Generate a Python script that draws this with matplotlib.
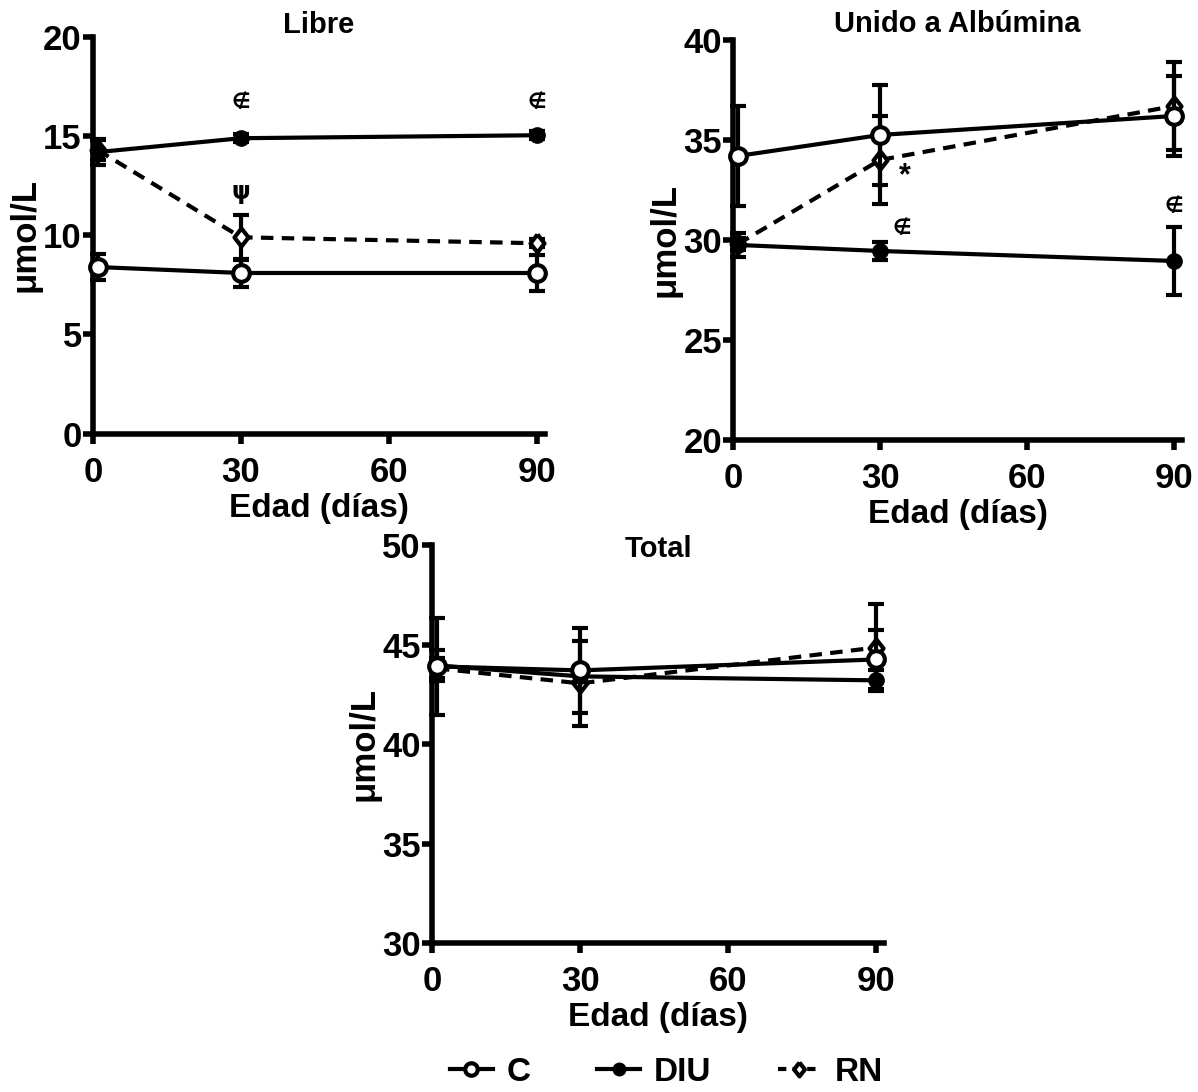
import matplotlib
matplotlib.use("Agg")
import matplotlib.pyplot as plt
from matplotlib.lines import Line2D

plt.rcParams['font.family'] = ['Liberation Sans Narrow', 'Liberation Sans', 'DejaVu Sans']
plt.rcParams['font.weight'] = 'bold'

# Data (mean +/- error)
days = [1, 30, 90]

libre_C = [8.4, 8.1, 8.1]
libre_C_err = [0.65, 0.72, 0.9]
libre_DIU = [14.2, 14.9, 15.05]
libre_DIU_err = [0.67, 0.2, 0.2]
libre_RN = [14.3, 9.9, 9.6]
libre_RN_err = [0.5, 1.15, 0.2]

alb_C = [34.2, 35.25, 36.2]
alb_C_err = [2.5, 2.5, 2.0]
alb_DIU = [29.75, 29.45, 28.95]
alb_DIU_err = [0.6, 0.45, 1.7]
alb_RN = [29.8, 34.0, 36.7]
alb_RN_err = [0.3, 2.2, 2.2]

tot_C = [43.9, 43.7, 44.25]
tot_C_err = [2.45, 2.15, 1.5]
tot_DIU = [43.95, 43.4, 43.2]
tot_DIU_err = [0.8, 0.3, 0.5]
tot_RN = [43.8, 43.05, 44.85]
tot_RN_err = [0.5, 2.15, 2.2]

# slightly narrow diamond like the original symbol
diamond = [(0, 1), (0.78, 0), (0, -1), (-0.78, 0), (0, 1)]

fig = plt.figure(figsize=(11.98, 10.92), dpi=100)

ax1 = fig.add_axes([0.0776, 0.6030, 0.3773, 0.3630])
ax2 = fig.add_axes([0.6119, 0.5971, 0.3748, 0.3663])
ax3 = fig.add_axes([0.3606, 0.1364, 0.3773, 0.3645])


def draw(ax, c, ce, d, de, r, re_, ylim, title, title_y):
    common = dict(ecolor='black', elinewidth=3, capsize=6, capthick=3, clip_on=False)
    ax.errorbar(days, r, yerr=re_, color='black', lw=3, ls=(0, (3, 2)), marker=diamond,
                markersize=13, markerfacecolor='white', markeredgecolor='black',
                markeredgewidth=3, zorder=3, **common)
    ax.errorbar(days, d, yerr=de, color='black', lw=3, marker='o', markersize=11,
                markerfacecolor='black', markeredgecolor='black', zorder=4, **common)
    ax.errorbar(days, c, yerr=ce, color='black', lw=3, marker='o', markersize=12,
                markerfacecolor='white', markeredgecolor='black', markeredgewidth=3,
                zorder=5, **common)
    ax.set_xlim(0, 91.6)
    ax.set_ylim(ylim)
    ax.set_xticks([0, 30, 60, 90])
    ax.set_yticks(range(ylim[0], ylim[1] + 1, 5))
    for s in ['top', 'right']:
        ax.spines[s].set_visible(False)
    for s in ['left', 'bottom']:
        ax.spines[s].set_linewidth(4)
    ax.tick_params(direction='out', length=7, width=4, labelsize=25)
    ax.tick_params(axis='x', pad=9)
    ax.tick_params(axis='y', pad=1)
    for lab in ax.get_xticklabels() + ax.get_yticklabels():
        lab.set_fontweight('bold')
    ax.set_xlabel('Edad (días)', fontsize=24, fontweight='bold', labelpad=3)
    ax.set_ylabel('μmol/L', fontsize=25, fontweight='bold', labelpad=1)
    ax.text(0.5, title_y, title, transform=ax.transAxes, ha='center', va='center',
            fontsize=21, fontweight='bold')


draw(ax1, libre_C, libre_C_err, libre_DIU, libre_DIU_err, libre_RN, libre_RN_err,
     (0, 20), 'Libre', 1.03)
draw(ax2, alb_C, alb_C_err, alb_DIU, alb_DIU_err, alb_RN, alb_RN_err,
     (20, 40), 'Unido a Albúmina', 1.04)
draw(ax3, tot_C, tot_C_err, tot_DIU, tot_DIU_err, tot_RN, tot_RN_err,
     (30, 50), 'Total', 0.99)

# significance marks
ax1.text(30, 16.7, '∉', ha='center', va='center', fontsize=15, family='DejaVu Sans')
ax1.text(90, 16.7, '∉', ha='center', va='center', fontsize=15, family='DejaVu Sans')
ax1.text(30, 12.2, 'ψ', ha='center', va='center', fontsize=17, family='DejaVu Sans')
ax2.text(35, 33.2, '*', ha='center', va='center', fontsize=22, fontweight='bold')
ax2.text(34.5, 30.6, '∉', ha='center', va='center', fontsize=15, family='DejaVu Sans')
ax2.text(90, 31.7, '∉', ha='center', va='center', fontsize=15, family='DejaVu Sans')

handles = [
    Line2D([], [], color='black', lw=3, marker='o', markersize=9,
           markerfacecolor='white', markeredgewidth=3),
    Line2D([], [], color='black', lw=3, marker='o', markersize=9,
           markerfacecolor='black'),
    Line2D([], [], color='black', lw=3, ls=(0, (2, 1.5)), marker=diamond, markersize=10,
           markerfacecolor='white', markeredgewidth=3),
]
fig.legend(handles, ['C', 'DIU', 'RN'], loc='center', bbox_to_anchor=(0.556, 0.018),
           ncol=3, frameon=False, handlelength=1.3, handletextpad=0.4,
           columnspacing=2.0, prop={'size': 24, 'weight': 'bold'})

fig.savefig('out.png', dpi=100)
